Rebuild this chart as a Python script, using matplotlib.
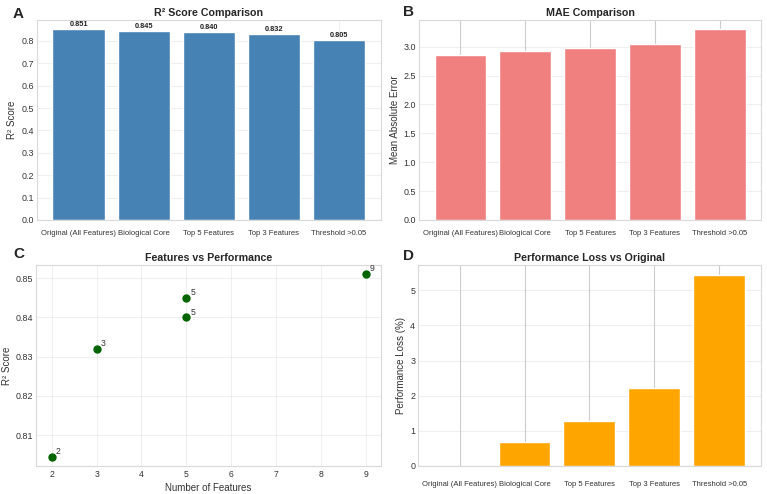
import matplotlib
matplotlib.use("Agg")
import matplotlib.pyplot as plt
import seaborn as sns
from matplotlib.ticker import MultipleLocator

sns.set_style("whitegrid")
plt.rcParams['font.family'] = ['Liberation Sans', 'DejaVu Sans']

# data
models = ['Original (All Features)', 'Biological Core', 'Top 5 Features',
          'Top 3 Features', 'Threshold >0.05']
r2_scores = [0.851, 0.845, 0.840, 0.832, 0.805]
mae_values = [2.86, 2.92, 2.97, 3.05, 3.30]
n_features = [9, 5, 5, 3, 2]
r2_by_features = [0.851, 0.845, 0.840, 0.832, 0.8045]
perf_loss = [0.0, 0.69, 1.27, 2.23, 5.45]

fig = plt.figure(figsize=(7.67, 4.94), dpi=100)
ax1 = fig.add_axes([0.048, 0.5547, 0.4485, 0.405])
ax2 = fig.add_axes([0.5463, 0.5547, 0.446, 0.405])
ax3 = fig.add_axes([0.047, 0.0567, 0.45, 0.407])
ax4 = fig.add_axes([0.545, 0.0567, 0.447, 0.407])

title_kw = dict(fontsize=7.7, fontweight='bold', pad=3)
label_kw = dict(fontsize=7, color='#333333', labelpad=3)


def style_ticks(ax, pad=3, xsize=5.5):
    for lab in ax.get_xticklabels():
        lab.set_fontsize(xsize)
        lab.set_color('#333333')
    for lab in ax.get_yticklabels():
        lab.set_fontsize(6.4)
        lab.set_color('#333333')
    ax.tick_params(axis='x', pad=pad, length=0)
    ax.tick_params(axis='y', pad=2, length=0)
    for s in ax.spines.values():
        s.set_color('#d9d9d9')
        s.set_linewidth(0.8)


# A: R2 comparison
bars = ax1.bar(models, r2_scores, color='steelblue')
ax1.set_title('R² Score Comparison', **title_kw)
ax1.set_ylabel('R² Score', **label_kw)
ax1.yaxis.set_major_locator(MultipleLocator(0.1))
ax1.grid(True, alpha=0.3)
for b, v in zip(bars, r2_scores):
    ax1.text(b.get_x() + b.get_width() / 2, b.get_height() + 0.005, f'{v:.3f}',
             ha='center', va='bottom', fontsize=5.3, fontweight='bold', color='#222222')
style_ticks(ax1, pad=7)

# B: MAE comparison
ax2.bar(models, mae_values, color='lightcoral')
ax2.set_title('MAE Comparison', **title_kw)
ax2.set_ylabel('Mean Absolute Error', **label_kw)
ax2.grid(axis='y', alpha=0.3)
style_ticks(ax2, pad=7)

# C: features vs performance
ax3.scatter(n_features, r2_by_features, s=25, color='darkgreen', zorder=3)
for n, r in zip(n_features, r2_by_features):
    ax3.annotate(str(n), (n, r), xytext=(3, 2), textcoords='offset points',
                 fontsize=6.2, color='#333333')
ax3.set_title('Features vs Performance', **title_kw)
ax3.set_xlabel('Number of Features', **label_kw)
ax3.set_ylabel('R² Score', **label_kw)
ax3.grid(True, alpha=0.3)
style_ticks(ax3, pad=3, xsize=6.2)

# D: performance loss
ax4.bar(models, perf_loss, color='orange')
ax4.axhline(0, color='red', linestyle='--', alpha=0.3, linewidth=0.8)
ax4.set_title('Performance Loss vs Original', **title_kw)
ax4.set_ylabel('Performance Loss (%)', **label_kw)
ax4.grid(axis='y', alpha=0.3)
style_ticks(ax4, pad=11)

fig.text(0.017, 0.985, 'A', fontsize=11, fontweight='bold', va='top')
fig.text(0.525, 0.99, 'B', fontsize=11, fontweight='bold', va='top')
fig.text(0.017, 0.50, 'C', fontsize=11, fontweight='bold', va='top')
fig.text(0.525, 0.495, 'D', fontsize=11, fontweight='bold', va='top')

fig.savefig('out.png', dpi=100)
